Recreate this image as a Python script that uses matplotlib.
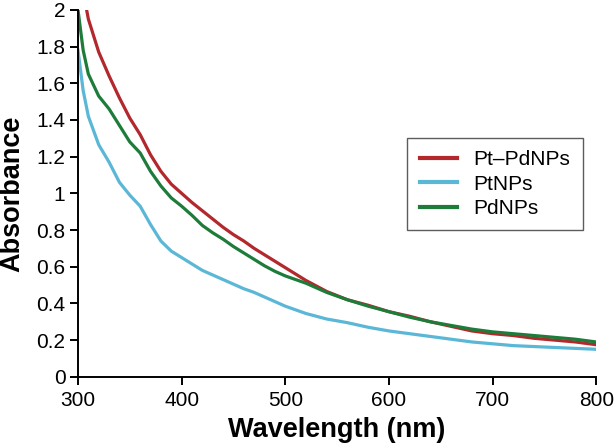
import numpy as np
import matplotlib.pyplot as plt

plt.rcParams['font.family'] = ['Liberation Sans', 'DejaVu Sans']

# === Data ===
wavelength = [300, 305, 310, 320, 330, 340, 350, 360, 370, 380, 390, 400, 410, 420,
              430, 440, 450, 460, 470, 480, 490, 500, 520, 540, 560, 580, 600, 620,
              640, 660, 680, 700, 720, 740, 760, 780, 800]

pt_pd = [2.30, 2.10, 1.95, 1.77, 1.64, 1.52, 1.41, 1.32, 1.21, 1.12, 1.05, 1.00, 0.95, 0.905,
         0.86, 0.815, 0.775, 0.74, 0.70, 0.665, 0.63, 0.595, 0.525, 0.465, 0.42, 0.39, 0.355, 0.33,
         0.30, 0.275, 0.25, 0.235, 0.225, 0.21, 0.20, 0.19, 0.175]
pt = [1.78, 1.56, 1.42, 1.265, 1.17, 1.06, 0.99, 0.93, 0.83, 0.74, 0.685, 0.65, 0.615, 0.58,
      0.555, 0.53, 0.505, 0.48, 0.46, 0.435, 0.41, 0.385, 0.345, 0.315, 0.295, 0.27, 0.25, 0.235,
      0.22, 0.205, 0.19, 0.18, 0.17, 0.165, 0.16, 0.155, 0.15]
pd = [2.0, 1.78, 1.65, 1.53, 1.46, 1.37, 1.28, 1.22, 1.12, 1.04, 0.975, 0.93, 0.88, 0.825,
      0.785, 0.75, 0.71, 0.675, 0.64, 0.605, 0.575, 0.55, 0.51, 0.46, 0.42, 0.385, 0.355, 0.325,
      0.30, 0.28, 0.26, 0.245, 0.235, 0.225, 0.215, 0.205, 0.19]

series = [("Pt\u2013PdNPs", pt_pd, "#b3282d"),
          ("PtNPs", pt, "#5bb7d6"),
          ("PdNPs", pd, "#1e7c3a")]

fig = plt.figure(figsize=(6.14, 4.47), dpi=100)
ax = fig.add_axes([0.127, 0.157, 0.844, 0.821])

for name, vals, col in series:
    ax.plot(wavelength, vals, color=col, lw=2.3, label=name)

ax.set_xlim(300, 800)
ax.set_ylim(0, 2)
ax.set_xticks([300, 400, 500, 600, 700, 800])
ax.set_yticks(np.arange(0, 2.01, 0.2))
ax.set_yticklabels(["0", "0.2", "0.4", "0.6", "0.8", "1", "1.2", "1.4", "1.6", "1.8", "2"])

for s in ["top", "right"]:
    ax.spines[s].set_visible(False)
for s in ["left", "bottom"]:
    ax.spines[s].set_linewidth(1.4)
ax.tick_params(direction="out", length=6, width=1.4, labelsize=15)
ax.tick_params(axis="x", pad=4)
ax.tick_params(axis="y", pad=3)

ax.set_xlabel("Wavelength (nm)", fontsize=19.5, fontweight="bold", labelpad=5)
ax.set_ylabel("Absorbance", fontsize=19.5, fontweight="bold", labelpad=8)

leg = ax.legend(loc="upper left", bbox_to_anchor=(0.635, 0.651), borderaxespad=0,
                fontsize=15, frameon=True, fancybox=False, edgecolor="#333333",
                handlelength=1.8, labelspacing=0.25, borderpad=0.6)
leg.get_frame().set_linewidth(1.0)
for h in leg.get_lines():
    h.set_linewidth(3)

plt.savefig("out.png", dpi=100)
